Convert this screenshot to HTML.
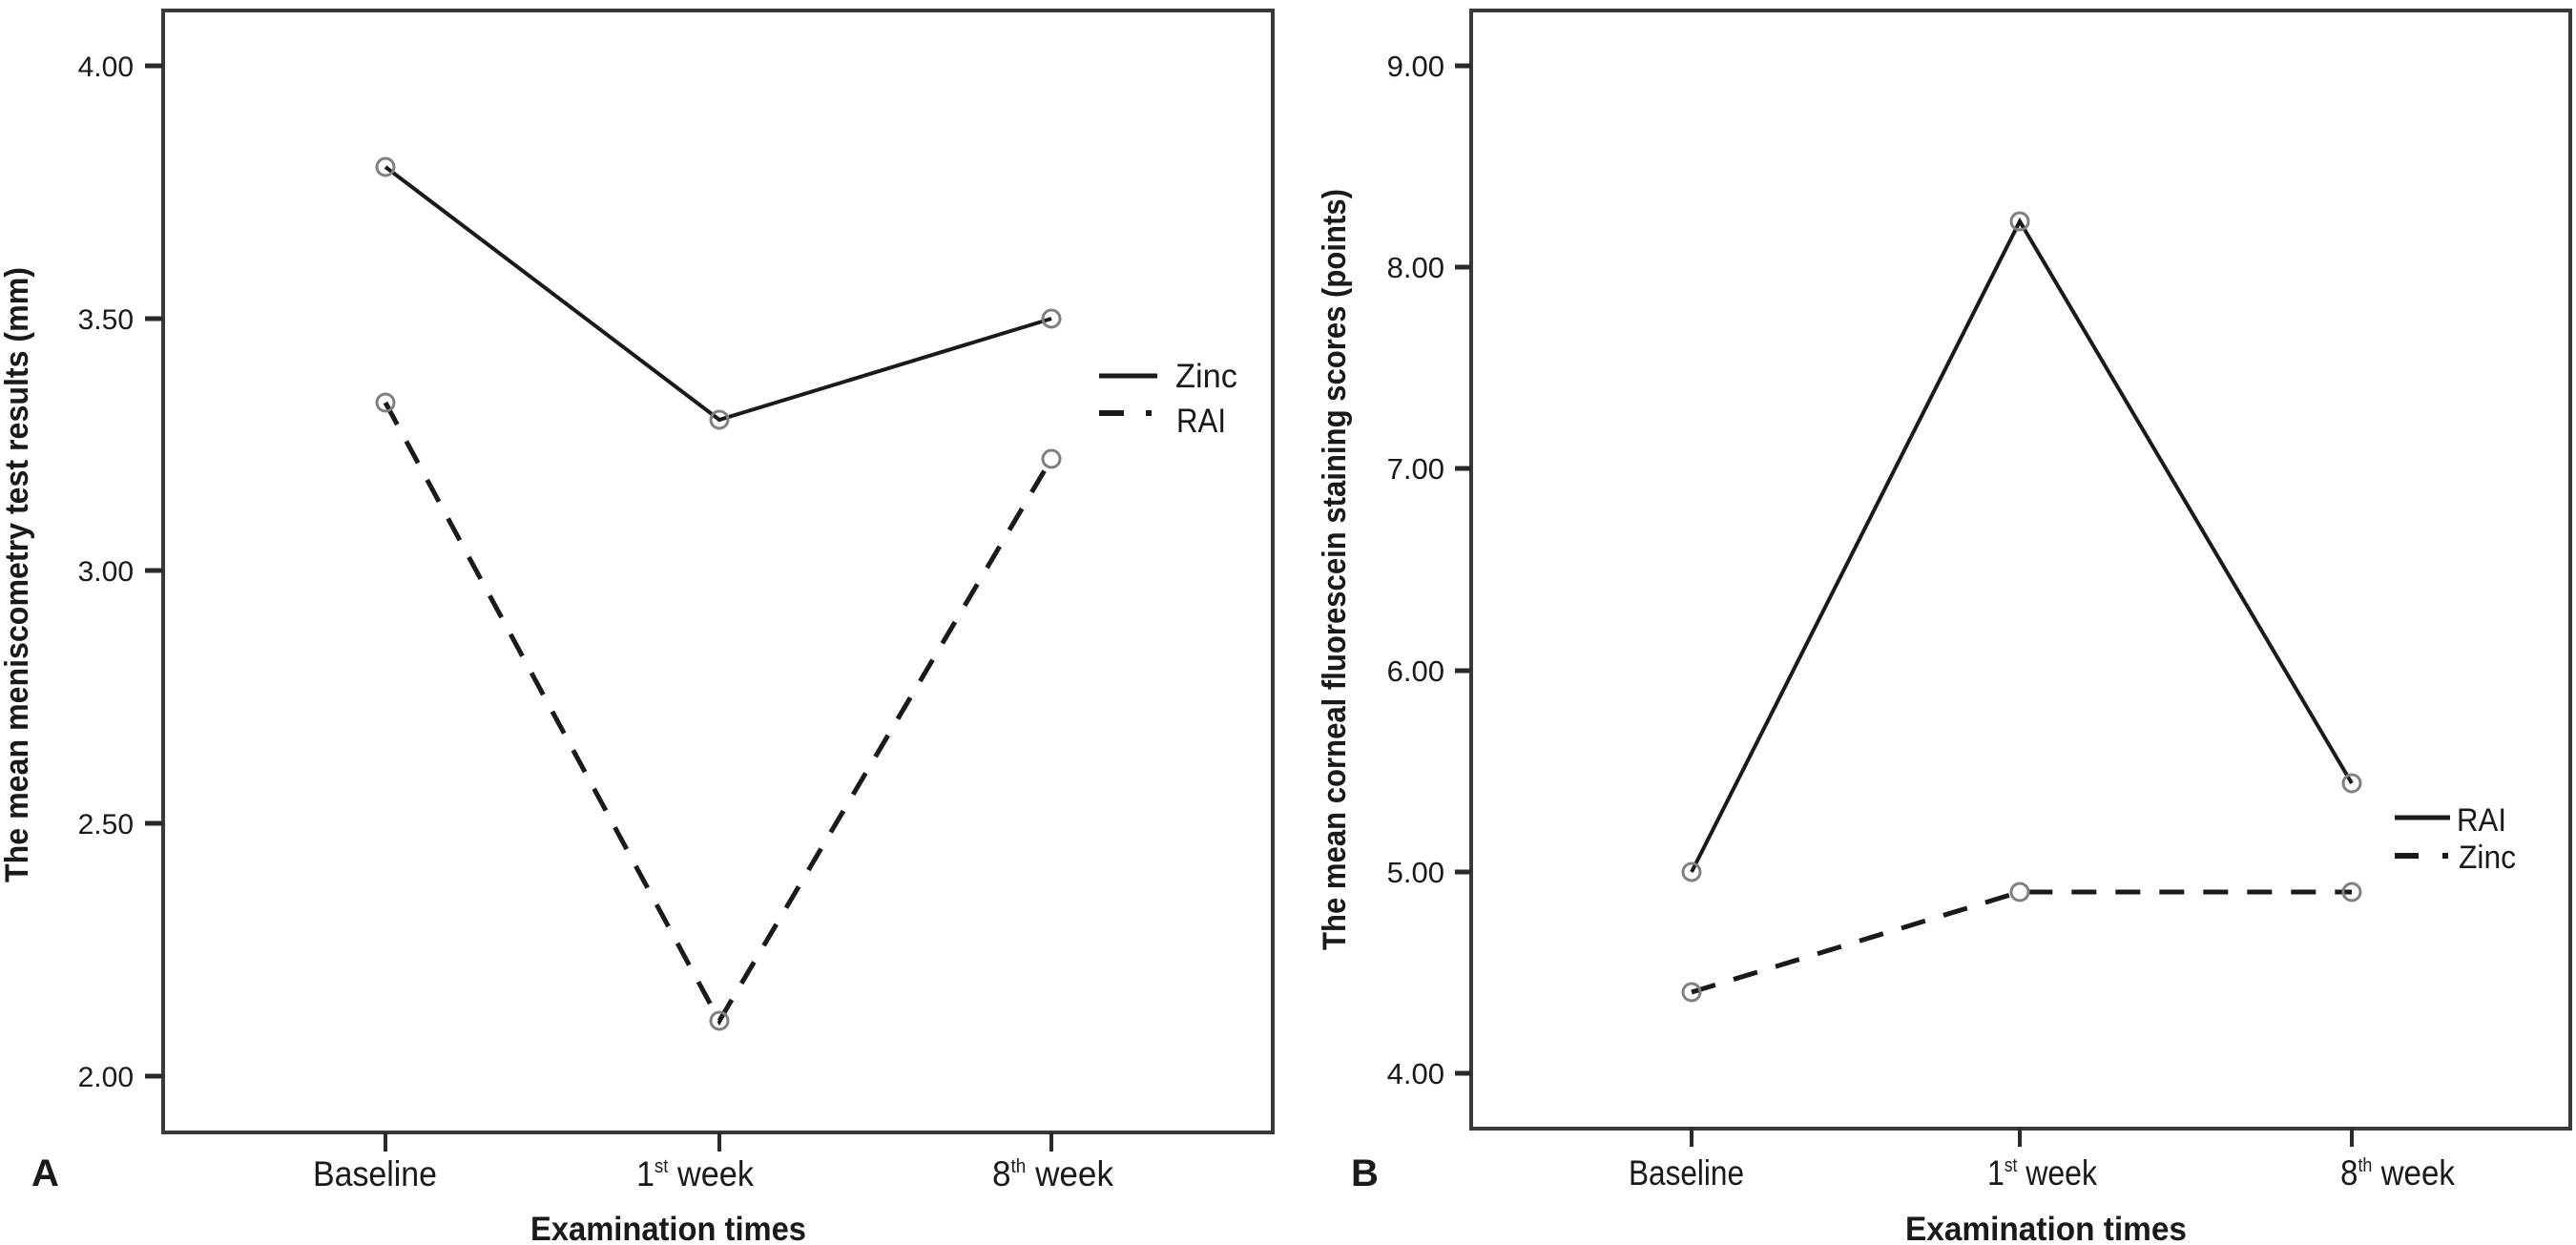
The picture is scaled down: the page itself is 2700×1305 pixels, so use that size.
<!DOCTYPE html>
<html><head><meta charset="utf-8"><style>
html,body{margin:0;padding:0;background:#fff;}
svg{display:block;}
text{font-family:"Liberation Sans",Arial,sans-serif;fill:#1a1a1a;}
.b{font-weight:bold;}
</style></head><body>
<svg width="2700" height="1305" viewBox="0 0 2700 1305" xmlns="http://www.w3.org/2000/svg">
<rect width="2700" height="1305" fill="#fff"/>

<!-- ===== Panel A ===== -->
<rect x="171" y="11" width="1163" height="1176" fill="none" stroke="#3a3a3a" stroke-width="4"/>
<!-- y ticks -->
<g stroke="#2a2a2a" stroke-width="5">
<line x1="152" y1="69" x2="171" y2="69"/>
<line x1="152" y1="334" x2="171" y2="334"/>
<line x1="152" y1="598" x2="171" y2="598"/>
<line x1="152" y1="863" x2="171" y2="863"/>
<line x1="152" y1="1128" x2="171" y2="1128"/>
</g>
<g font-size="30" text-anchor="end">
<text x="140" y="80">4.00</text>
<text x="140" y="345">3.50</text>
<text x="140" y="609">3.00</text>
<text x="140" y="874">2.50</text>
<text x="140" y="1139">2.00</text>
</g>
<!-- x ticks -->
<g stroke="#2a2a2a" stroke-width="4">
<line x1="404" y1="1187" x2="404" y2="1207"/>
<line x1="754" y1="1187" x2="754" y2="1207"/>
<line x1="1102" y1="1187" x2="1102" y2="1207"/>
</g>
<g font-size="37">
<text x="328" y="1243" textLength="130" lengthAdjust="spacingAndGlyphs">Baseline</text>
<text x="667" y="1243" textLength="123" lengthAdjust="spacingAndGlyphs">1<tspan font-size="20" dy="-14">st</tspan><tspan dy="14"> week</tspan></text>
<text x="1040" y="1243" textLength="127" lengthAdjust="spacingAndGlyphs">8<tspan font-size="20" dy="-14">th</tspan><tspan dy="14"> week</tspan></text>
</g>
<text class="b" x="556" y="1300" font-size="35" textLength="289" lengthAdjust="spacingAndGlyphs">Examination times</text>
<text class="b" transform="translate(29,925) rotate(-90)" font-size="34" textLength="645" lengthAdjust="spacingAndGlyphs">The mean meniscometry test results (mm)</text>
<text class="b" x="33" y="1243" font-size="40">A</text>

<!-- A series -->
<polyline points="404,175 754,440 1102,334" fill="none" stroke="#1a1a1a" stroke-width="4"/>
<polyline points="404,422 754,1070 1102,481" fill="none" stroke="#1a1a1a" stroke-width="5" stroke-dasharray="26 20"/>
<g fill="none" stroke="#808080" stroke-width="3">
<circle cx="404" cy="175" r="9"/>
<circle cx="754" cy="440" r="9"/>
<circle cx="1102" cy="334" r="9"/>
<circle cx="404" cy="422" r="9"/>
<circle cx="754" cy="1070" r="9"/>
<circle cx="1102" cy="481" r="9"/>
</g>
<!-- A legend -->
<line x1="1152" y1="394" x2="1213" y2="394" stroke="#1a1a1a" stroke-width="5"/>
<line x1="1152" y1="433" x2="1178" y2="433" stroke="#1a1a1a" stroke-width="6"/>
<line x1="1201" y1="433" x2="1207" y2="433" stroke="#1a1a1a" stroke-width="6"/>
<text x="1232" y="406" font-size="35" textLength="65" lengthAdjust="spacingAndGlyphs">Zinc</text>
<text x="1233" y="453" font-size="35" textLength="52" lengthAdjust="spacingAndGlyphs">RAI</text>

<!-- ===== Panel B ===== -->
<rect x="1542" y="11" width="1152" height="1172" fill="none" stroke="#3a3a3a" stroke-width="4"/>
<g stroke="#2a2a2a" stroke-width="5">
<line x1="1525" y1="69" x2="1542" y2="69"/>
<line x1="1525" y1="280" x2="1542" y2="280"/>
<line x1="1525" y1="491" x2="1542" y2="491"/>
<line x1="1525" y1="703" x2="1542" y2="703"/>
<line x1="1525" y1="914" x2="1542" y2="914"/>
<line x1="1525" y1="1125" x2="1542" y2="1125"/>
</g>
<g font-size="31" text-anchor="end">
<text x="1514" y="80">9.00</text>
<text x="1514" y="291">8.00</text>
<text x="1514" y="502">7.00</text>
<text x="1514" y="714">6.00</text>
<text x="1514" y="925">5.00</text>
<text x="1514" y="1136">4.00</text>
</g>
<g stroke="#2a2a2a" stroke-width="4">
<line x1="1773" y1="1183" x2="1773" y2="1202"/>
<line x1="2117" y1="1183" x2="2117" y2="1202"/>
<line x1="2465" y1="1183" x2="2465" y2="1202"/>
</g>
<g font-size="37">
<text x="1707" y="1242" textLength="121" lengthAdjust="spacingAndGlyphs">Baseline</text>
<text x="2083" y="1242" textLength="115" lengthAdjust="spacingAndGlyphs">1<tspan font-size="20" dy="-14">st</tspan><tspan dy="14"> week</tspan></text>
<text x="2453" y="1242" textLength="120" lengthAdjust="spacingAndGlyphs">8<tspan font-size="20" dy="-14">th</tspan><tspan dy="14"> week</tspan></text>
</g>
<text class="b" x="1997" y="1300" font-size="35" textLength="295" lengthAdjust="spacingAndGlyphs">Examination times</text>
<text class="b" transform="translate(1410,996) rotate(-90)" font-size="34" textLength="798" lengthAdjust="spacingAndGlyphs">The mean corneal fluorescein staining scores (points)</text>
<text class="b" x="1416" y="1243" font-size="40">B</text>

<!-- B series -->
<polyline points="1773,914 2117,232 2465,821" fill="none" stroke="#1a1a1a" stroke-width="4"/>
<polyline points="1773,1040 2117,935 2465,935" fill="none" stroke="#1a1a1a" stroke-width="5" stroke-dasharray="26 20"/>
<g fill="none" stroke="#808080" stroke-width="3">
<circle cx="1773" cy="914" r="9"/>
<circle cx="2117" cy="232" r="9"/>
<circle cx="2465" cy="821" r="9"/>
<circle cx="1773" cy="1040" r="9"/>
<circle cx="2117" cy="935" r="9"/>
<circle cx="2465" cy="935" r="9"/>
</g>
<!-- B legend -->
<line x1="2510" y1="857" x2="2568" y2="857" stroke="#1a1a1a" stroke-width="5"/>
<line x1="2510" y1="897" x2="2535" y2="897" stroke="#1a1a1a" stroke-width="6"/>
<line x1="2560" y1="897" x2="2566" y2="897" stroke="#1a1a1a" stroke-width="6"/>
<text x="2575" y="871" font-size="34" textLength="52" lengthAdjust="spacingAndGlyphs">RAI</text>
<text x="2577" y="910" font-size="34" textLength="60" lengthAdjust="spacingAndGlyphs">Zinc</text>
</svg>
</body></html>
